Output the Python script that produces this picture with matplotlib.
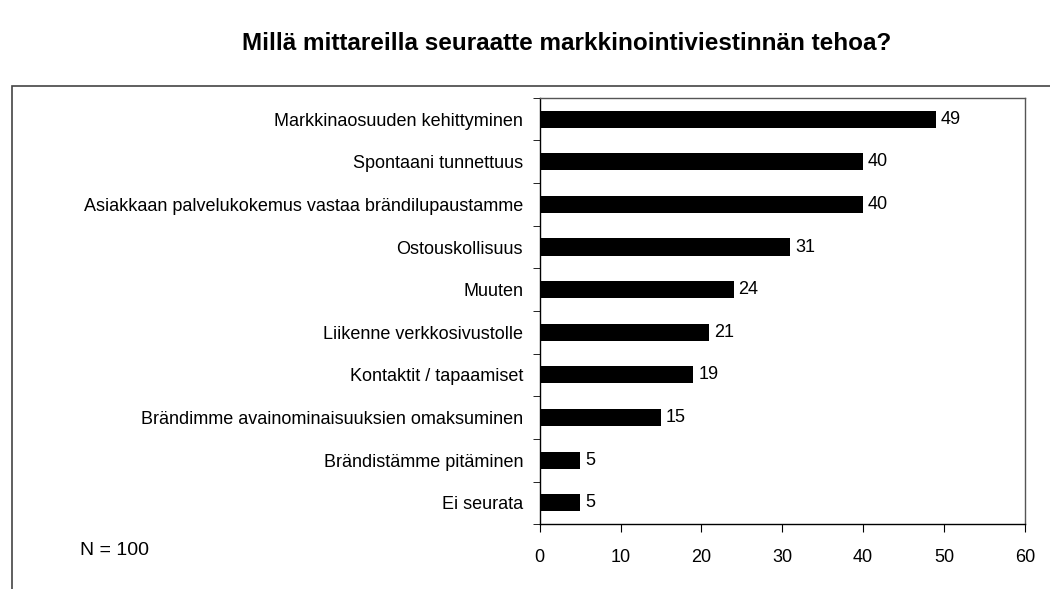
import matplotlib.pyplot as plt
from matplotlib.patches import Rectangle
import numpy as np

plt.rcParams['font.family'] = ['Liberation Sans', 'DejaVu Sans']

categories = [
    "Markkinaosuuden kehittyminen",
    "Spontaani tunnettuus",
    "Asiakkaan palvelukokemus vastaa brändilupaustamme",
    "Ostouskollisuus",
    "Muuten",
    "Liikenne verkkosivustolle",
    "Kontaktit / tapaamiset",
    "Brändimme avainominaisuuksien omaksuminen",
    "Brändistämme pitäminen",
    "Ei seurata",
]
values = [49, 40, 40, 31, 24, 21, 19, 15, 5, 5]
xticks = [0, 10, 20, 30, 40, 50, 60]

fig = plt.figure(figsize=(10.5, 5.89), dpi=100)
ax = fig.add_axes([0.514, 0.110, 0.462, 0.724])

y = np.arange(len(categories))[::-1]
ax.barh(y, values, height=0.4, color="black")
for yi, v in zip(y, values):
    ax.text(v + 0.6, yi, str(v), va="center", ha="left", fontsize=13)

ax.set_xlim(0, 60)
ax.set_ylim(-0.5, len(categories) - 0.5)
ax.set_xticks(xticks)
ax.tick_params(axis="x", direction="out", length=6, labelsize=13, pad=12)

ax.set_yticks(y)
ax.set_yticklabels(categories, fontsize=13)
ax.set_yticks(np.arange(-0.5, len(categories), 1), minor=True)
ax.tick_params(axis="y", which="major", length=0, pad=12)
ax.tick_params(axis="y", which="minor", length=5, direction="out")

for s in ax.spines.values():
    s.set_linewidth(1.0)
ax.spines["top"].set_color("#555555")
ax.spines["right"].set_color("#555555")

fig.text(0.540, 0.926, "Millä mittareilla seuraatte markkinointiviestinnän tehoa?",
         ha="center", va="center", fontsize=17.5, fontweight="bold")
fig.text(0.076, 0.066, "N = 100", ha="left", va="center", fontsize=14)

fig.add_artist(Rectangle((0.0115, -0.05), 1.1, 0.904, transform=fig.transFigure,
                         fill=False, edgecolor="#444444", linewidth=1.2))

fig.savefig("out.png", dpi=100)
